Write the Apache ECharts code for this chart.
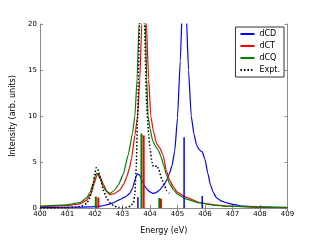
<!DOCTYPE html>
<html><head><meta charset="utf-8">
<script src="https://cdn.jsdelivr.net/npm/echarts@6/dist/echarts.min.js"></script>
<style>html,body{margin:0;padding:0;background:#fff}#c{width:320px;height:240px}</style>
</head><body><div id="c"></div>
<script>
const xTicks = [400,401,402,403,404,405,406,407,408,409];
const yTicks = [0,5,10,15,20];
const dCD = [[400,0.06],[401,0.08],[401.5,0.1],[402,0.16],[402.2,0.2],[402.5,0.4],[402.65,0.55],[402.9,0.9],[403.1,1.2],[403.27,1.6],[403.37,2.2],[403.45,3.0],[403.5,3.5],[403.55,3.7],[403.62,3.6],[403.7,3.1],[403.8,2.4],[403.9,2.0],[404.0,1.75],[404.1,1.6],[404.2,1.65],[404.35,1.95],[404.5,2.5],[404.6,3.0],[404.7,3.7],[404.8,4.6],[404.9,6.2],[405.0,9.8],[405.1,16],[405.18,22],[405.25,24],[405.32,21],[405.4,15],[405.5,10],[405.6,8],[405.7,6.8],[405.8,6.3],[405.9,6.1],[406.0,5.3],[406.1,3.8],[406.2,2.5],[406.3,1.7],[406.42,1.1],[406.6,0.75],[406.8,0.55],[407.0,0.4],[407.4,0.2],[408,0.1],[409,0.04]];
const dCT = [[400,0.15],[401,0.25],[401.45,0.45],[401.7,0.85],[401.85,1.5],[401.98,2.7],[402.05,3.4],[402.1,3.7],[402.15,3.6],[402.22,3.2],[402.3,2.6],[402.45,1.7],[402.55,1.45],[402.7,1.55],[402.9,1.95],[403.05,2.6],[403.15,3.35],[403.25,4.3],[403.33,5.4],[403.45,7.9],[403.55,10],[403.63,14],[403.7,20],[403.78,25],[403.87,20],[403.95,14],[404.03,10],[404.12,8.4],[404.24,7.0],[404.36,6.5],[404.48,5.7],[404.6,4.0],[404.72,3.0],[404.85,2.3],[405.0,1.7],[405.33,1.15],[405.8,0.6],[406.3,0.35],[406.8,0.22],[408,0.1],[409,0.06]];
const dCQ = [[400,0.2],[401,0.35],[401.45,0.6],[401.7,1.1],[401.82,1.7],[401.94,2.7],[402.0,3.4],[402.05,3.8],[402.1,3.7],[402.2,3.1],[402.3,2.3],[402.42,1.8],[402.55,1.6],[402.7,1.9],[402.85,2.5],[403.03,3.7],[403.21,5.8],[403.37,8.2],[403.45,10],[403.53,14],[403.6,20],[403.7,26],[403.83,20],[403.88,14],[403.93,10],[404.0,8.6],[404.1,7.3],[404.2,6.7],[404.3,6.3],[404.4,5.6],[404.5,4.6],[404.6,3.6],[404.7,2.7],[404.85,2.0],[405.0,1.5],[405.3,1.0],[405.8,0.55],[406.3,0.32],[406.8,0.2],[408,0.1],[409,0.05]];
const expt = [[400,0.0],[401,0.02],[401.3,0.08],[401.5,0.2],[401.7,0.5],[401.8,1.0],[401.88,1.8],[401.94,2.8],[402.0,3.9],[402.05,4.4],[402.1,4.2],[402.2,3.2],[402.3,1.95],[402.42,1.1],[402.55,0.55],[402.7,0.2],[402.85,0.06],[403.0,0.03],[403.15,0.08],[403.3,0.2],[403.4,0.6],[403.45,1.5],[403.5,4.5],[403.55,10],[403.62,20],[403.7,26],[403.8,20],[403.88,11],[403.95,8],[404.0,6.5],[404.07,5.0],[404.12,4.5],[404.18,4.5],[404.25,4.6],[404.32,4.2],[404.42,3.2],[404.52,2.5],[404.6,1.9],[404.7,1.6]];
const dCDSticks = [[403.56,1.2],[405.24,7.7],[405.9,1.3]];
const dCTSticks = [[402.12,1.15],[403.77,7.9],[404.4,1.0]];
const dCQSticks = [[402.03,1.25],[403.69,8.1],[404.34,1.1]];

const chart = echarts.init(document.getElementById('c'), null, {renderer:'canvas'});
const font = 'DejaVu Sans';
const axisColor = '#8c8c8c';
function sticks(name, data, color, w){
  return {type:'custom', name:name, data:data, z:3,
    renderItem:function(params, api){
      const p0 = api.coord([api.value(0), 0]);
      const p1 = api.coord([api.value(0), api.value(1)]);
      return {type:'line', shape:{x1:p0[0],y1:p0[1],x2:p1[0],y2:p1[1]}, style:{stroke:color, lineWidth:w}};
    }};
}
function line(name, data, color, type, w, z){
  return {type:'line', name:name, data:data, showSymbol:false, symbol:'none', clip:true, z:z,
    smooth:0.15, smoothMonotone:'x', lineStyle:{color:color, width:w, type:type}, itemStyle:{color:color}};
}
chart.setOption({
  animation:false,
  textStyle:{fontFamily:font},
  grid:{left:40, top:24, width:247.5, height:191, containLabel:false},
  legend:{data:['dCD','dCT','dCQ','Expt.'], orient:'vertical', right:36, top:27,
    itemWidth:14, itemHeight:8, itemGap:2, padding:[2,4,2,4],
    itemStyle:{opacity:0},
    backgroundColor:'#fff', borderColor:'#333', borderWidth:1, borderRadius:0,
    textStyle:{fontFamily:font, fontSize:8, color:'#000', lineHeight:10}},
  xAxis:[
    {type:'value', min:400, max:409, interval:1, position:'bottom',
      name:'Energy (eV)', nameLocation:'middle', nameGap:19,
      nameTextStyle:{fontFamily:font, fontSize:8, color:'#000'},
      axisLine:{show:true, lineStyle:{color:axisColor, width:1}},
      axisTick:{show:true, inside:true, length:3, lineStyle:{color:axisColor}},
      axisLabel:{fontFamily:font, fontSize:7, color:'#000', margin:3, formatter:function(v){return xTicks.indexOf(v)>=0?String(v):'';}},
      splitLine:{show:false}},
    {type:'value', min:400, max:409, interval:1, position:'top',
      axisLine:{show:true, lineStyle:{color:axisColor, width:1}},
      axisTick:{show:true, inside:true, length:3, lineStyle:{color:axisColor}},
      axisLabel:{show:false}, splitLine:{show:false}}
  ],
  yAxis:[
    {type:'value', min:0, max:20, interval:5, position:'left',
      name:'Intensity (arb. units)', nameLocation:'middle', nameGap:22, nameRotate:90,
      nameTextStyle:{fontFamily:font, fontSize:8, color:'#000'},
      axisLine:{show:true, lineStyle:{color:axisColor, width:1}},
      axisTick:{show:true, inside:true, length:3, lineStyle:{color:axisColor}},
      axisLabel:{fontFamily:font, fontSize:7, color:'#000', margin:3, formatter:function(v){return yTicks.indexOf(v)>=0?String(v):'';}},
      splitLine:{show:false}},
    {type:'value', min:0, max:20, interval:5, position:'right',
      axisLine:{show:true, lineStyle:{color:axisColor, width:1}},
      axisTick:{show:true, inside:true, length:3, lineStyle:{color:axisColor}},
      axisLabel:{show:false}, splitLine:{show:false}}
  ],
  series:[
    line('dCD', dCD, '#0000ff', 'solid', 1.2, 2),
    line('dCT', dCT, '#ff0000', 'solid', 1.2, 2),
    line('dCQ', dCQ, '#008000', 'solid', 1.2, 2),
    sticks('dCDs', dCDSticks, '#0000ff', 1.5),
    sticks('dCTs', dCTSticks, '#ff0000', 2),
    sticks('dCQs', dCQSticks, '#008000', 2),
    line('Expt.', expt, '#000000', [1.5,2], 1.5, 4)
  ]
});
</script></body></html>
